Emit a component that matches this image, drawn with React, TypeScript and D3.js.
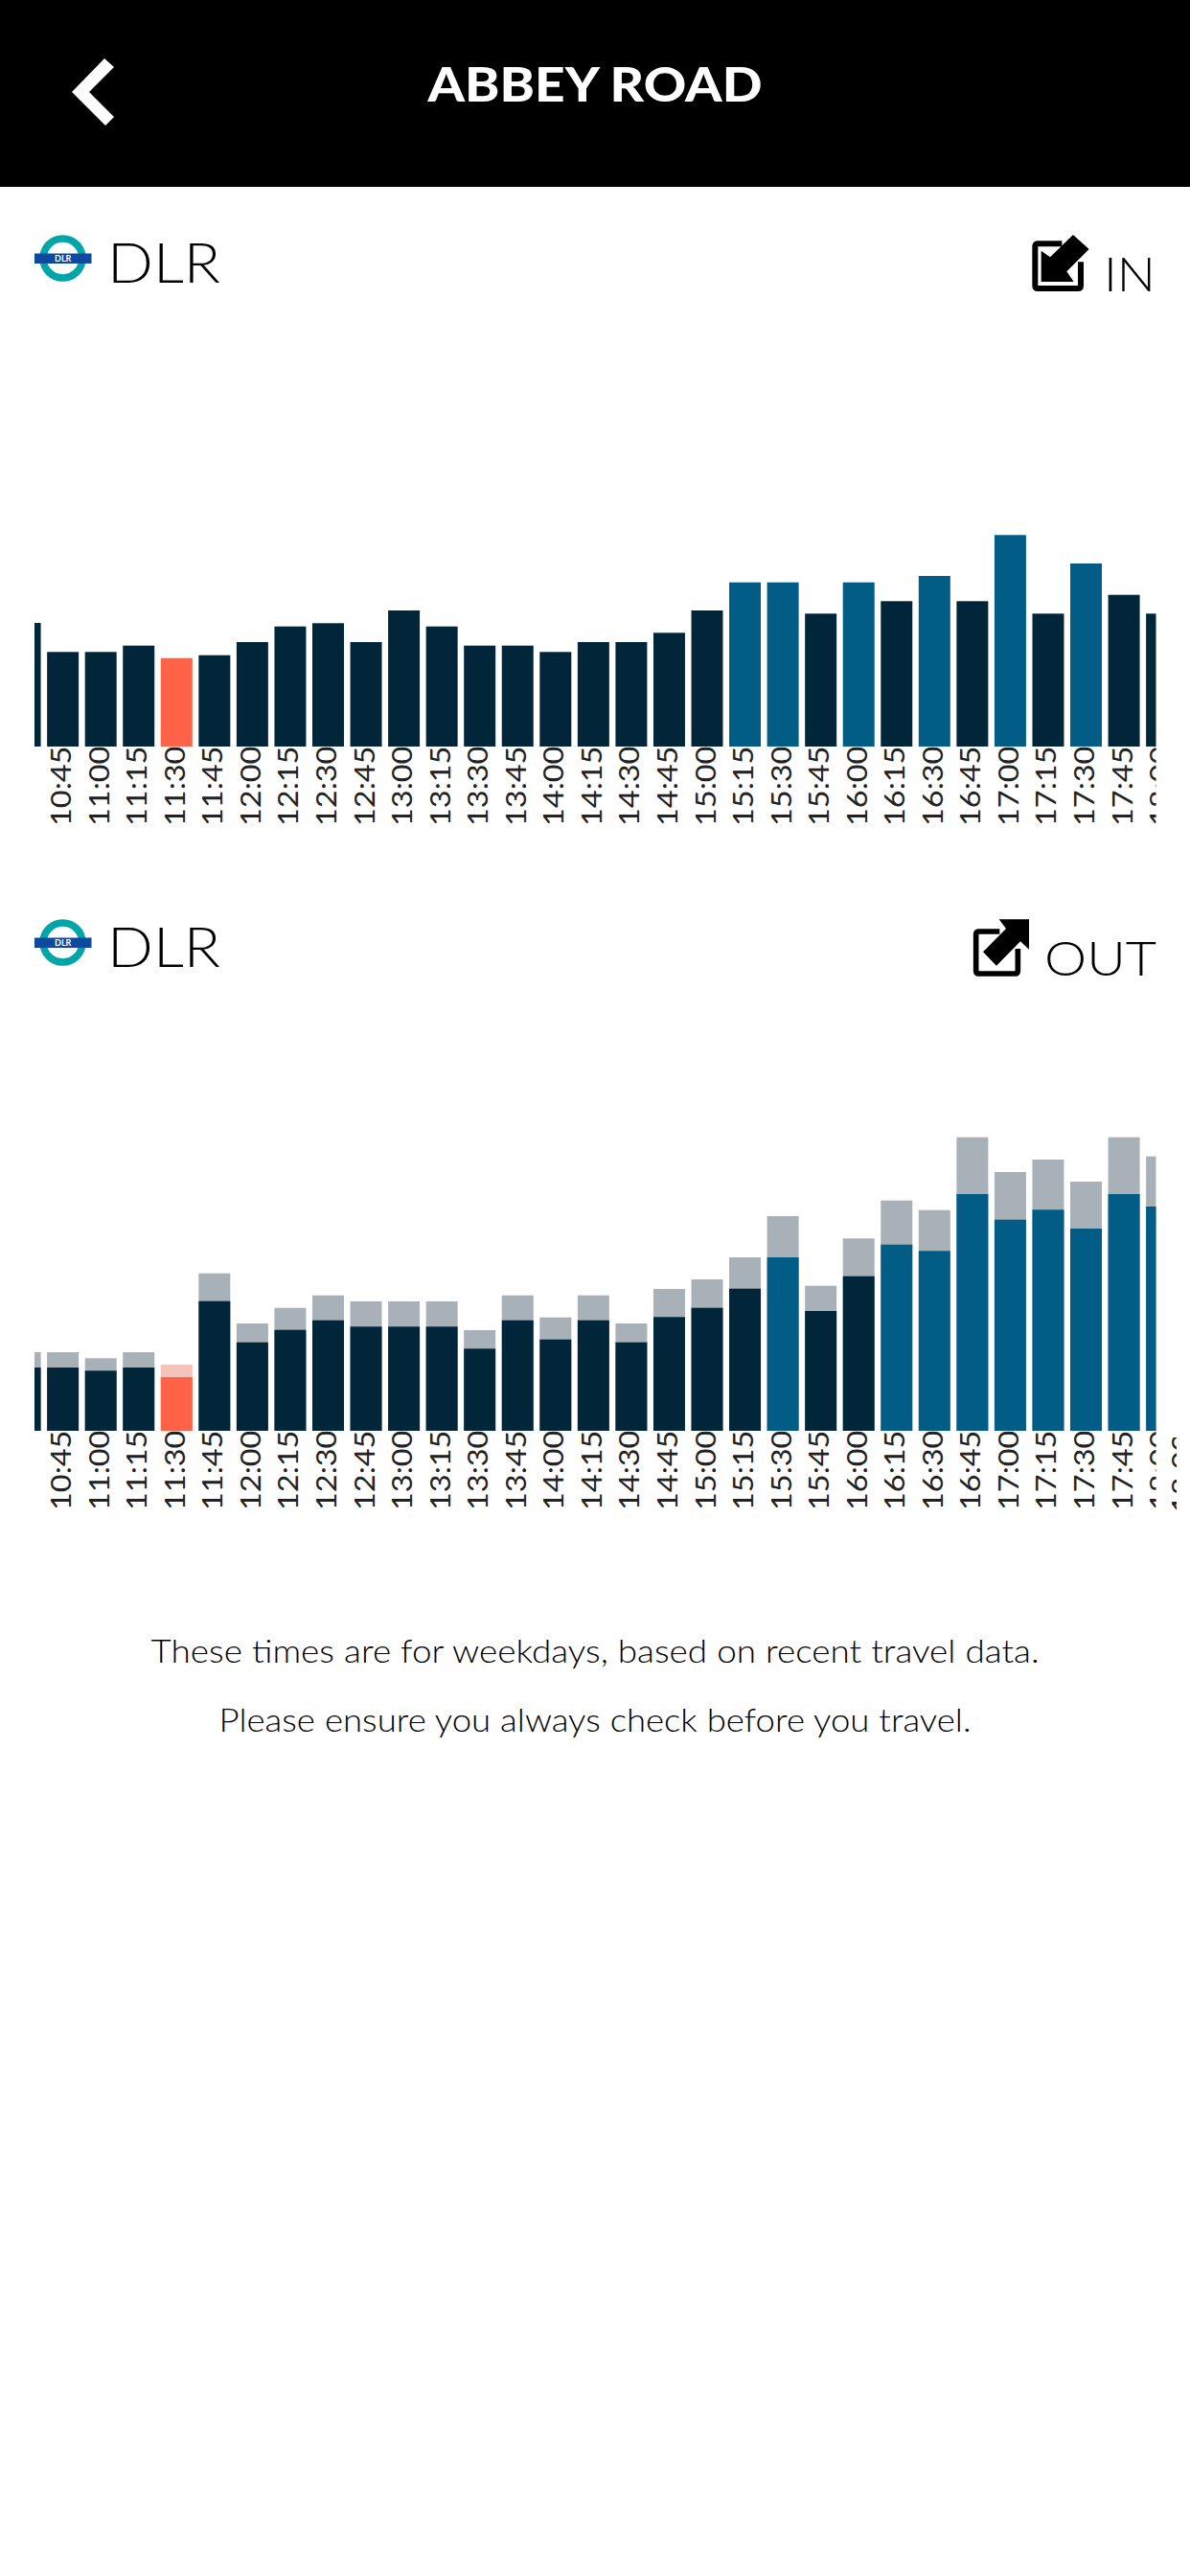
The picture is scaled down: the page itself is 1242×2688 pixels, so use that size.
import React from "react";
import * as d3 from "d3";

const times = ["10:30","10:45","11:00","11:15","11:30","11:45","12:00","12:15","12:30","12:45","13:00","13:15","13:30","13:45","14:00","14:15","14:30","14:45","15:00","15:15","15:30","15:45","16:00","16:15","16:30","16:45","17:00","17:15","17:30","17:45","18:00"];
const inValues = [129,98.7,98.7,105.3,92.3,95.3,109,125.3,128.7,109,142,125.3,105.3,105.3,98.7,109,109,118.7,142,171.3,171.3,138.7,171.3,151.7,178,151.7,220.7,138.7,191,158.3,138.7];
const outMain = [66,66,62.7,66,56,135.3,92.3,105.3,115.3,108.7,108.7,108.7,85.7,115.3,95.3,115.3,92.3,118.7,128.3,148.3,181,125,161.3,194.3,187.7,247,220.3,230.7,211,247,234];
const outTotal = [82,82,75.7,82,69,164.3,112,128.3,141.3,135,135,135,105,141.3,118.3,141.3,112,148,158,181,224,151.3,200.7,240.3,230.3,306.3,270,283,260,306.3,286.3];
const inBusy = ["15:15","15:30","16:00","16:30","17:00","17:30"];
const outBusy = ["15:30","16:15","16:30","16:45","17:00","17:15","17:30","17:45","18:00"];
const nowTime = "11:30";
const footerLines = ["These times are for weekdays, based on recent travel data.","Please ensure you always check before you travel."];

const DARK = "#012639";
const BLUE = "#015c86";
const NOW = "#ff6246";
const GREY = "#a7b1b7";
const NOW_LIGHT = "#f4c4bb";
const FONT = "Lato, sans-serif";

const x = d3.scaleBand<string>().domain(times).range([6.3, 1232.4]).paddingInner(0.166).paddingOuter(0.083);
const h = d3.scaleLinear().domain([0, 320]).range([0, 320]);

function fill(t: string, busy: string[]) {
  return t === nowTime ? NOW : busy.includes(t) ? BLUE : DARK;
}
const poly = (p: number[][]) => d3.line()(p as [number, number][]) + "Z";

function Header({ dy, label }: { dy: number; label: string }) {
  return (
    <g transform={`translate(0,${dy})`}>
      <ellipse cx={65.5} cy={269.5} rx={20.5} ry={20.5} fill="none" stroke="#00a5a8" strokeWidth={7.5} />
      <rect x={36} y={264.5} width={59.5} height={10.5} fill="#0b4a9e" />
      <text x={65.7} y={273} textAnchor="middle" fontSize={9} fontWeight={700} fontFamily={FONT} fill="#fff">DLR</text>
      <text x={112} y={295} fontSize={57} fontWeight={300} fontFamily={FONT} fill="#000" textLength={118} lengthAdjust="spacingAndGlyphs">DLR</text>
      {label === "IN" ? (
        <g transform="translate(1060,230) scale(0.3333)">
          <path d="M145 73H70Q61 73 61 82V204Q61 213 70 213H195Q204 213 204 204V130" fill="none" stroke="#000" strokeWidth={18} />
          <path d={poly([[80,95],[108,115],[180,45],[230,90],[160,160],[182,192],[80,192]])} fill="#000" strokeLinejoin="round" />
        </g>
      ) : (
        <g transform="translate(1000,231) scale(0.3333)">
          <path d="M130 81H65Q56 81 56 90V204Q56 213 65 213H178Q187 213 187 204V135" fill="none" stroke="#000" strokeWidth={17} />
          <path d={poly([[128,43],[222,43],[222,137],[195,112],[120,188],[78,145],[150,72]])} fill="#000" />
        </g>
      )}
      {label === "IN" ? (
        <text x={1152} y={304} fontSize={50} fontWeight={300} fontFamily={FONT} fill="#000" textLength={54} lengthAdjust="spacingAndGlyphs">IN</text>
      ) : (
        <text x={1090} y={304} fontSize={50} fontWeight={300} fontFamily={FONT} fill="#000" textLength={117} lengthAdjust="spacingAndGlyphs">OUT</text>
      )}
    </g>
  );
}

function Ticks({ top }: { top: number }) {
  return (
    <g clipPath="url(#plot)">
      {times.map((t) => {
        const cx = x(t)! + x.bandwidth() / 2;
        return (
          <text key={t} transform={`translate(${cx + 8.5},${top}) rotate(-90) scale(1.16,1)`} fontSize={28} fontWeight={400} fontFamily={FONT} fill="#222">{t}</text>
        );
      })}
    </g>
  );
}

export default function App() {
  const w = x.bandwidth();
  const inBase = 779;
  const outBase = 1493;
  return (
    <svg width={1242} height={2688} style={{ position: "absolute", left: 0, top: 0, display: "block", background: "#fff" }}>
      <defs>
        <clipPath id="plot"><rect x={36} y={0} width={1170.5} height={2688} /></clipPath>
        <clipPath id="frag"><rect x={1215} y={1500} width={13} height={100} /></clipPath>
      </defs>
      <rect x={0} y={0} width={1242} height={195} fill="#000" />
      <path d={poly([[109,61],[119,70],[93,96],[119,122],[110,131],[75,96]])} fill="#fff" />
      <text x={621} y={106} textAnchor="middle" fontSize={50} fontWeight={900} fontFamily={FONT} fill="#fff" textLength={349} lengthAdjust="spacingAndGlyphs">ABBEY ROAD</text>

      <Header dy={0} label="IN" />
      <g clipPath="url(#plot)">
        {times.map((t, i) => (
          <rect key={t} x={x(t)} y={inBase - h(inValues[i])} width={w} height={h(inValues[i])} fill={fill(t, inBusy)} />
        ))}
      </g>
      <Ticks top={862} />

      <Header dy={714} label="OUT" />
      <g clipPath="url(#plot)">
        {times.map((t, i) => (
          <g key={t}>
            <rect x={x(t)} y={outBase - h(outTotal[i])} width={w} height={h(outTotal[i])} fill={t === nowTime ? NOW_LIGHT : GREY} />
            <rect x={x(t)} y={outBase - h(outMain[i])} width={w} height={h(outMain[i])} fill={fill(t, outBusy)} />
          </g>
        ))}
      </g>
      <Ticks top={1576} />
      <g clipPath="url(#frag)">
        <text transform="translate(1244,1579) rotate(-90) scale(1.16,1)" fontSize={28} fontWeight={400} fontFamily={FONT} fill="#222">18:00</text>
      </g>

      <text x={621} y={1735} textAnchor="middle" fontSize={33} fontWeight={300} fontFamily={FONT} fill="#000" textLength={927} lengthAdjust="spacingAndGlyphs">{footerLines[0]}</text>
      <text x={621} y={1807} textAnchor="middle" fontSize={33} fontWeight={300} fontFamily={FONT} fill="#000" textLength={785} lengthAdjust="spacingAndGlyphs">{footerLines[1]}</text>
    </svg>
  );
}
